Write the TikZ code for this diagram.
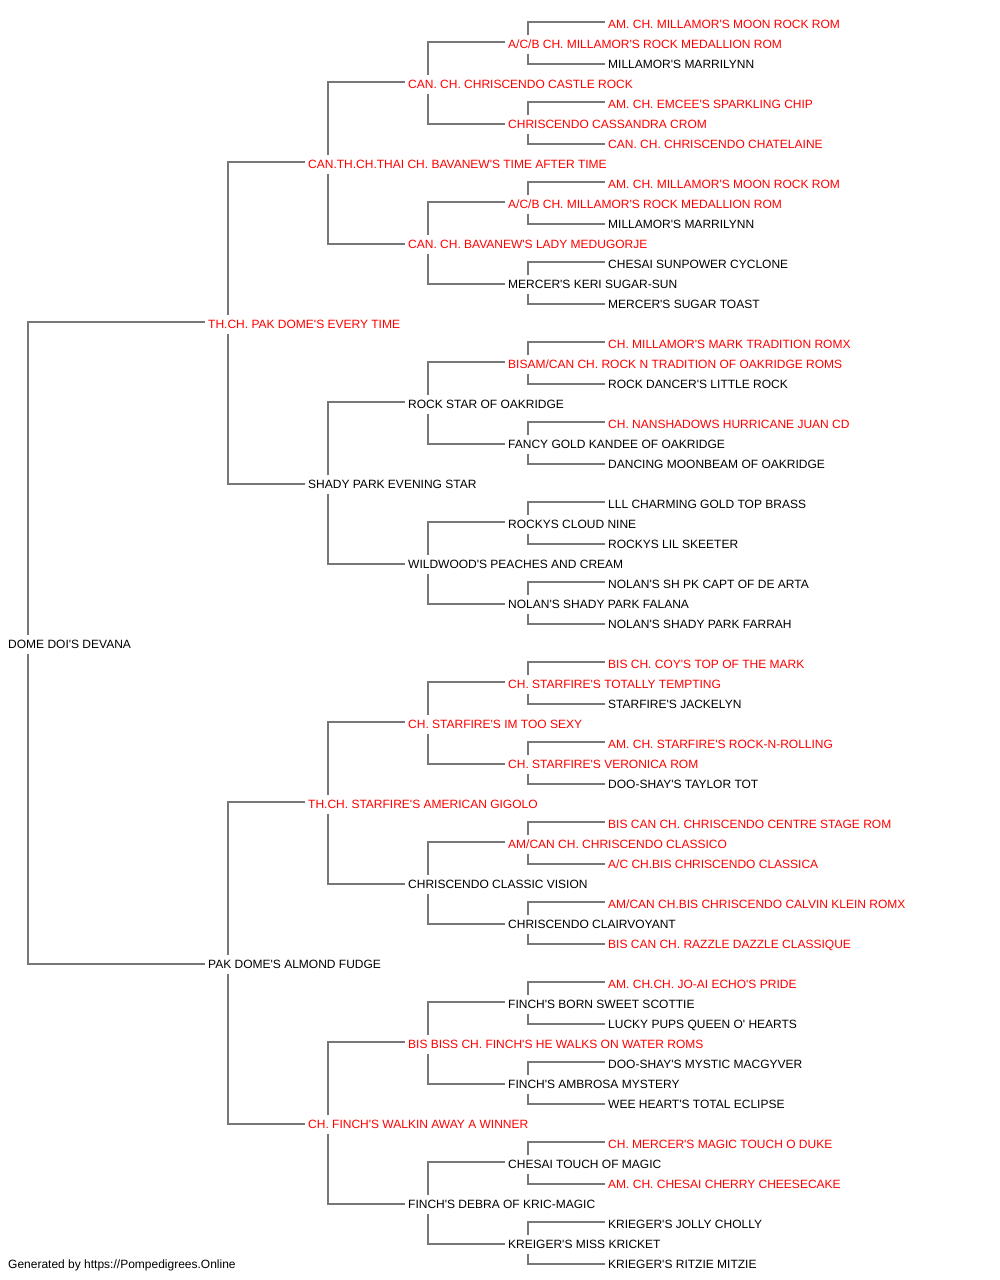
\documentclass[tikz,border=0pt]{standalone}
\usepackage{fontspec}
\setmainfont{Liberation Sans}[Ligatures=TeXOff]
\usetikzlibrary{calc}
\definecolor{tred}{RGB}{255,0,0}
\definecolor{lgray}{RGB}{119,119,119}
\tikzset{
  pname/.style={anchor=base west, inner sep=0pt, font=\fontsize{12}{14}\selectfont},
  titled/.style={pname, text=tred},
  plain/.style={pname, text=black},
  conn/.style={draw=lgray, line width=1.4pt},
}
\newcommand\pnode[4]{\node[#3] (n#1) at (#2, {28+20*#1}) {#4};}
\newcommand\pconn[2]{%
  \pgfmathtruncatemacro\pa{#1-#2}%
  \pgfmathtruncatemacro\pb{#1+#2}%
  \draw[conn] ($(n\pa.base west)+(-3,-6)$) -| ($(n#1.base west)+(20,-13)$);
  \draw[conn] ($(n\pb.base west)+(-3,-4)$) -| ($(n#1.base west)+(20,5.5)$);
}
\begin{document}
\begin{tikzpicture}[x=1pt,y=-1pt]
\useasboundingbox (0,0) rectangle (1000,1280);
% generation 0
\pnode{31}{8}{plain}{DOME DOI'S DEVANA}
% generation 1
\pnode{15}{208}{titled}{TH.CH. PAK DOME'S EVERY TIME}
\pnode{47}{208}{plain}{PAK DOME'S ALMOND FUDGE}
% generation 2
\pnode{7}{308}{titled}{CAN.TH.CH.THAI CH. BAVANEW'S TIME AFTER TIME}
\pnode{23}{308}{plain}{SHADY PARK EVENING STAR}
\pnode{39}{308}{titled}{TH.CH. STARFIRE'S AMERICAN GIGOLO}
\pnode{55}{308}{titled}{CH. FINCH'S WALKIN AWAY A WINNER}
% generation 3
\pnode{3}{408}{titled}{CAN. CH. CHRISCENDO CASTLE ROCK}
\pnode{11}{408}{titled}{CAN. CH. BAVANEW'S LADY MEDUGORJE}
\pnode{19}{408}{plain}{ROCK STAR OF OAKRIDGE}
\pnode{27}{408}{plain}{WILDWOOD'S PEACHES AND CREAM}
\pnode{35}{408}{titled}{CH. STARFIRE'S IM TOO SEXY}
\pnode{43}{408}{plain}{CHRISCENDO CLASSIC VISION}
\pnode{51}{408}{titled}{BIS BISS CH. FINCH'S HE WALKS ON WATER ROMS}
\pnode{59}{408}{plain}{FINCH'S DEBRA OF KRIC-MAGIC}
% generation 4
\pnode{1}{508}{titled}{A/C/B CH. MILLAMOR'S ROCK MEDALLION ROM}
\pnode{5}{508}{titled}{CHRISCENDO CASSANDRA CROM}
\pnode{9}{508}{titled}{A/C/B CH. MILLAMOR'S ROCK MEDALLION ROM}
\pnode{13}{508}{plain}{MERCER'S KERI SUGAR-SUN}
\pnode{17}{508}{titled}{BISAM/CAN CH. ROCK N TRADITION OF OAKRIDGE ROMS}
\pnode{21}{508}{plain}{FANCY GOLD KANDEE OF OAKRIDGE}
\pnode{25}{508}{plain}{ROCKYS CLOUD NINE}
\pnode{29}{508}{plain}{NOLAN'S SHADY PARK FALANA}
\pnode{33}{508}{titled}{CH. STARFIRE'S TOTALLY TEMPTING}
\pnode{37}{508}{titled}{CH. STARFIRE'S VERONICA ROM}
\pnode{41}{508}{titled}{AM/CAN CH. CHRISCENDO CLASSICO}
\pnode{45}{508}{plain}{CHRISCENDO CLAIRVOYANT}
\pnode{49}{508}{plain}{FINCH'S BORN SWEET SCOTTIE}
\pnode{53}{508}{plain}{FINCH'S AMBROSA MYSTERY}
\pnode{57}{508}{plain}{CHESAI TOUCH OF MAGIC}
\pnode{61}{508}{plain}{KREIGER'S MISS KRICKET}
% generation 5
\pnode{0}{608}{titled}{AM. CH. MILLAMOR'S MOON ROCK ROM}
\pnode{2}{608}{plain}{MILLAMOR'S MARRILYNN}
\pnode{4}{608}{titled}{AM. CH. EMCEE'S SPARKLING CHIP}
\pnode{6}{608}{titled}{CAN. CH. CHRISCENDO CHATELAINE}
\pnode{8}{608}{titled}{AM. CH. MILLAMOR'S MOON ROCK ROM}
\pnode{10}{608}{plain}{MILLAMOR'S MARRILYNN}
\pnode{12}{608}{plain}{CHESAI SUNPOWER CYCLONE}
\pnode{14}{608}{plain}{MERCER'S SUGAR TOAST}
\pnode{16}{608}{titled}{CH. MILLAMOR'S MARK TRADITION ROMX}
\pnode{18}{608}{plain}{ROCK DANCER'S LITTLE ROCK}
\pnode{20}{608}{titled}{CH. NANSHADOWS HURRICANE JUAN CD}
\pnode{22}{608}{plain}{DANCING MOONBEAM OF OAKRIDGE}
\pnode{24}{608}{plain}{LLL CHARMING GOLD TOP BRASS}
\pnode{26}{608}{plain}{ROCKYS LIL SKEETER}
\pnode{28}{608}{plain}{NOLAN'S SH PK CAPT OF DE ARTA}
\pnode{30}{608}{plain}{NOLAN'S SHADY PARK FARRAH}
\pnode{32}{608}{titled}{BIS CH. COY'S TOP OF THE MARK}
\pnode{34}{608}{plain}{STARFIRE'S JACKELYN}
\pnode{36}{608}{titled}{AM. CH. STARFIRE'S ROCK-N-ROLLING}
\pnode{38}{608}{plain}{DOO-SHAY'S TAYLOR TOT}
\pnode{40}{608}{titled}{BIS CAN CH. CHRISCENDO CENTRE STAGE ROM}
\pnode{42}{608}{titled}{A/C CH.BIS CHRISCENDO CLASSICA}
\pnode{44}{608}{titled}{AM/CAN CH.BIS CHRISCENDO CALVIN KLEIN ROMX}
\pnode{46}{608}{titled}{BIS CAN CH. RAZZLE DAZZLE CLASSIQUE}
\pnode{48}{608}{titled}{AM. CH.CH. JO-AI ECHO'S PRIDE}
\pnode{50}{608}{plain}{LUCKY PUPS QUEEN O' HEARTS}
\pnode{52}{608}{plain}{DOO-SHAY'S MYSTIC MACGYVER}
\pnode{54}{608}{plain}{WEE HEART'S TOTAL ECLIPSE}
\pnode{56}{608}{titled}{CH. MERCER'S MAGIC TOUCH O DUKE}
\pnode{58}{608}{titled}{AM. CH. CHESAI CHERRY CHEESECAKE}
\pnode{60}{608}{plain}{KRIEGER'S JOLLY CHOLLY}
\pnode{62}{608}{plain}{KRIEGER'S RITZIE MITZIE}
% footer
\node[plain] (footer) at (8,1268) {Generated by https://Pompedigrees.Online};
% connectors
\foreach \r in {1,5,...,61} {\pconn{\r}{1}}
\foreach \r in {3,11,...,59} {\pconn{\r}{2}}
\foreach \r in {7,23,39,55} {\pconn{\r}{4}}
\foreach \r in {15,47} {\pconn{\r}{8}}
\pconn{31}{16}
\end{tikzpicture}
\end{document}
